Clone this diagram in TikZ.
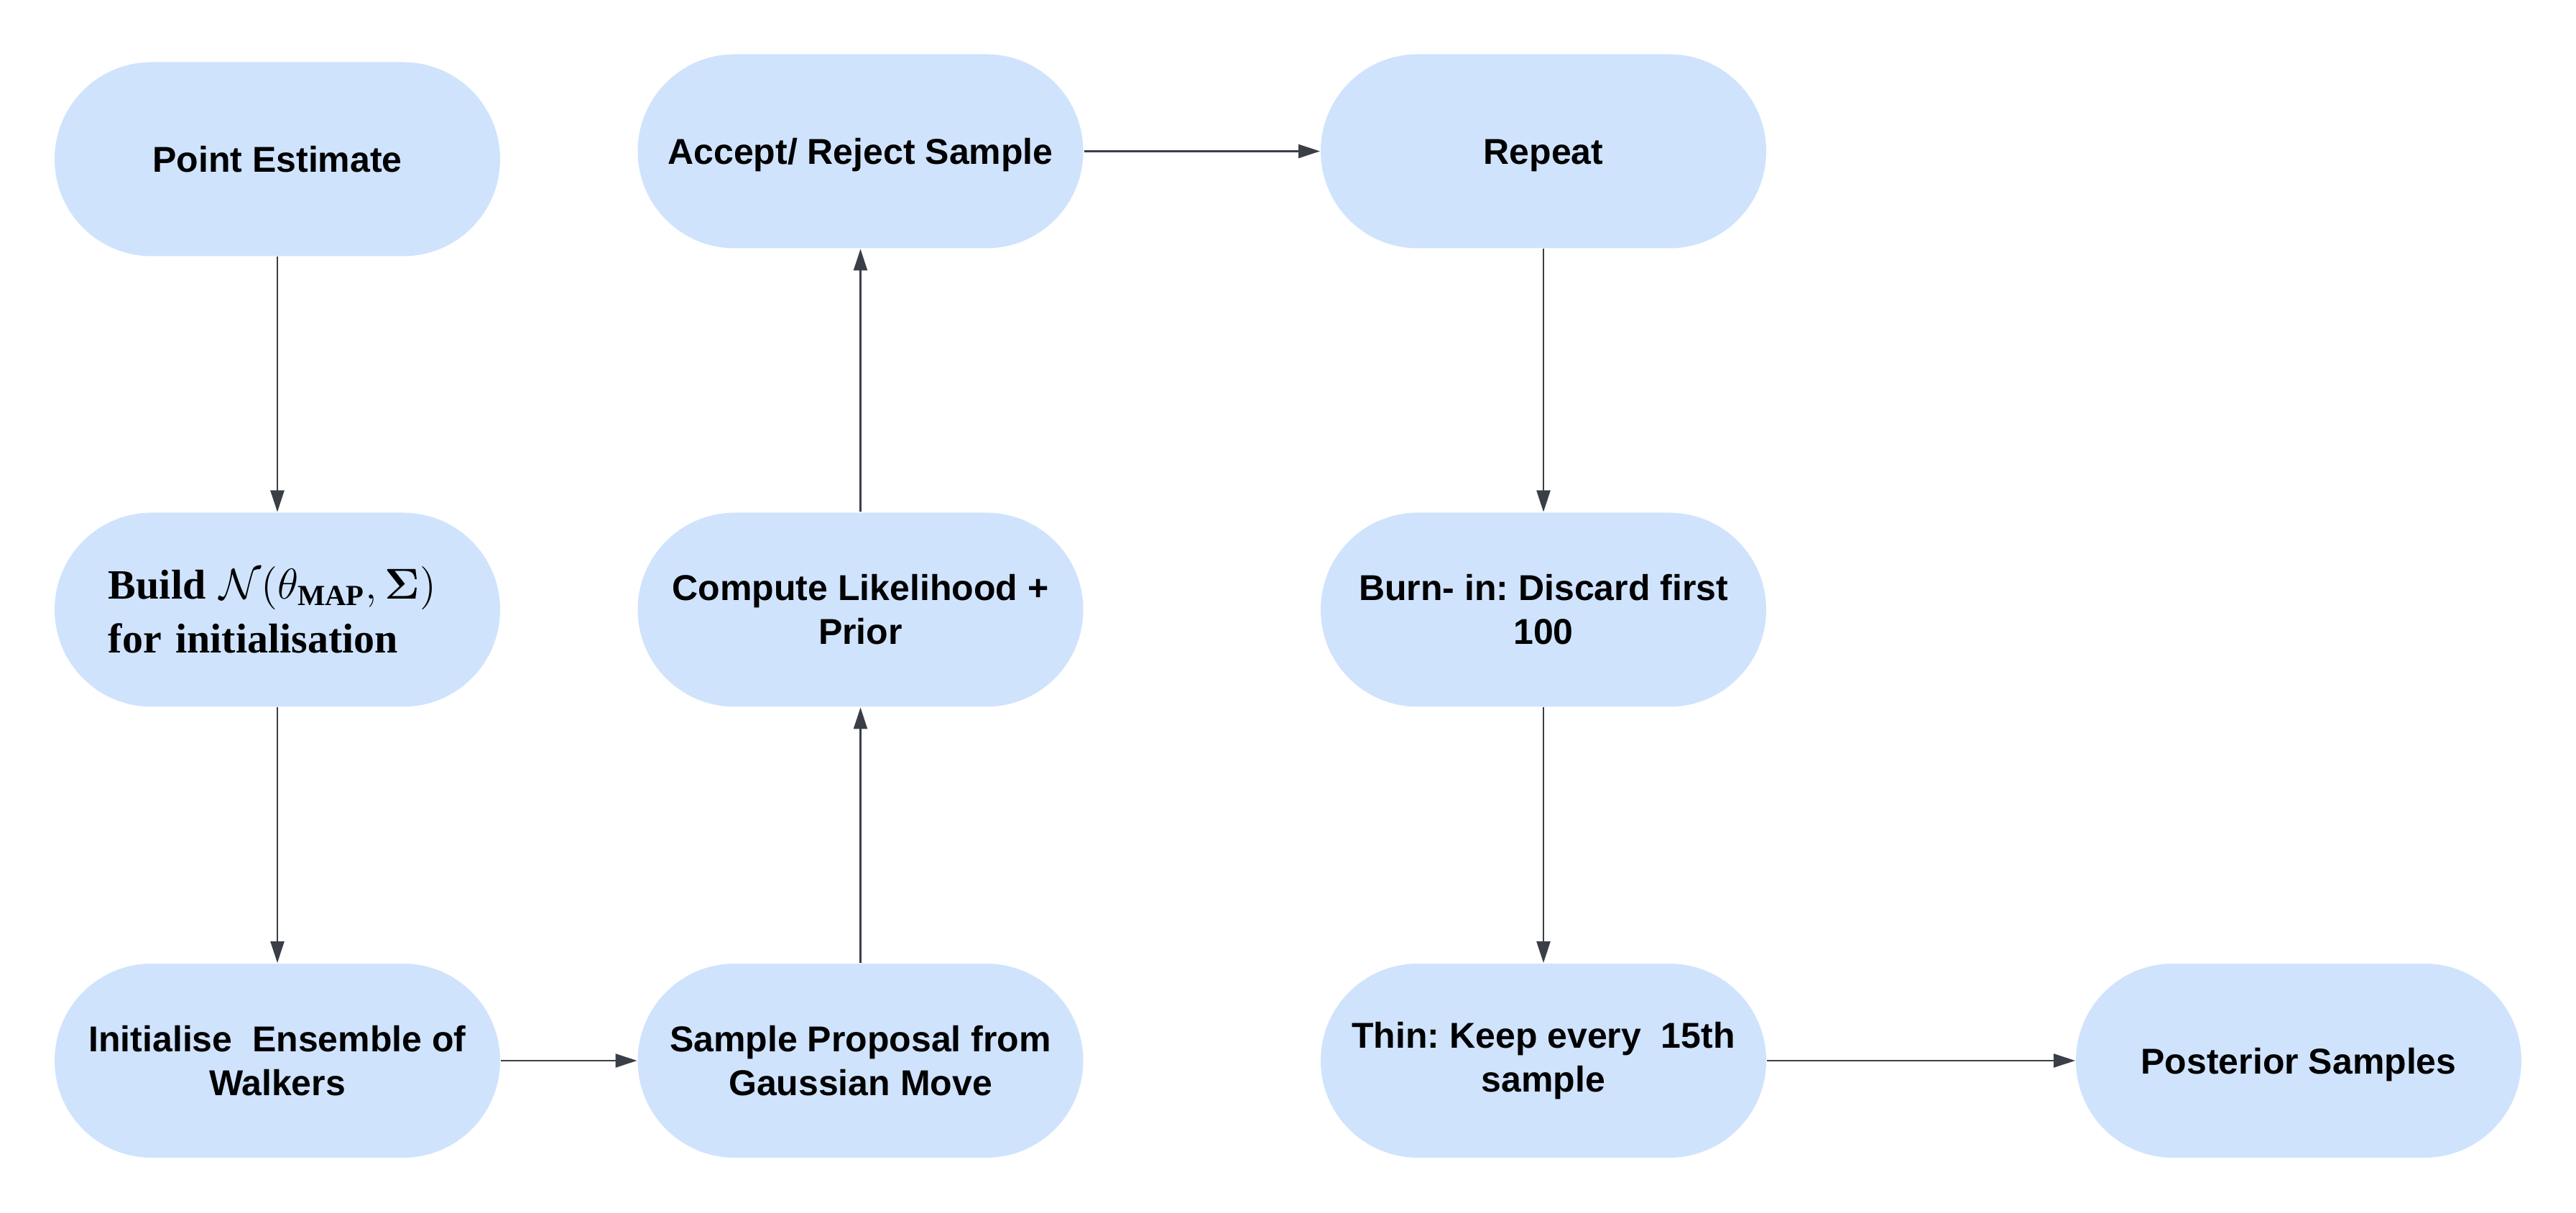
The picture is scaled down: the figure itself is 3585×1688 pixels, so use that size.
\documentclass[tikz,border=0pt]{standalone}
\usepackage{fontspec}
\usepackage{amsmath}
\setmainfont{Liberation Sans}
\newfontfamily\tnr{Liberation Serif}
\usetikzlibrary{arrows.meta}
\definecolor{boxfill}{HTML}{CFE3FD}
\definecolor{arrowc}{HTML}{3A3F47}
\frenchspacing
\begin{document}
\begin{tikzpicture}[x=0.2pt,y=-0.2pt,
  box/.style={fill=boxfill, rounded corners=27pt, minimum width=124pt, minimum height=54pt,
    inner sep=0pt, align=center, text=black, font=\fontsize{10}{12.2}\selectfont\bfseries\frenchspacing},
  oneline/.style={text height=7.2pt, text depth=0pt},
  conn/.style={draw=arrowc, line width=0.5pt, -{Triangle[length=6pt,width=3.8pt]}}]
\useasboundingbox (0,0) rectangle (3585,1688);

\node[box, oneline] (pe) at (386,221.5) {Point Estimate};
\node[box, align=left, text width=94pt, font=\fontsize{11.6}{15}\selectfont\bfseries\tnr] (build) at (386,848.5)
  {Build $\mathcal{N}(\theta_{\text{\tnr\bfseries MAP}},\boldsymbol{\Sigma})$\\for initialisation};
\node[box] (init) at (386,1476) {Initialise\ \ Ensemble of\\Walkers};

\node[box, oneline] (acc) at (1197.5,210.5) {Accept/ Reject Sample};
\node[box] (comp) at (1197.5,848.5) {Compute Likelihood +\\Prior};
\node[box] (samp) at (1197.5,1476) {Sample Proposal from\\Gaussian Move};

\node[box, oneline] (rep) at (2148,210.5) {Repeat};
\node[box] (burn) at (2148,848.5) {Burn- in: Discard first\\100};
\node[box] (thin) at (2148,1476) {Thin: Keep every\ \ 15th\\sample};

\node[box, oneline] (post) at (3199,1476) {Posterior Samples};

\draw[conn] (pe) -- (build);
\draw[conn] (build) -- (init);
\draw[conn] (init) -- (samp);
\draw[conn] (samp) -- (comp);
\draw[conn] (comp) -- (acc);
\draw[conn] (acc) -- (rep);
\draw[conn] (rep) -- (burn);
\draw[conn] (burn) -- (thin);
\draw[conn] (thin) -- (post);
\end{tikzpicture}
\end{document}
